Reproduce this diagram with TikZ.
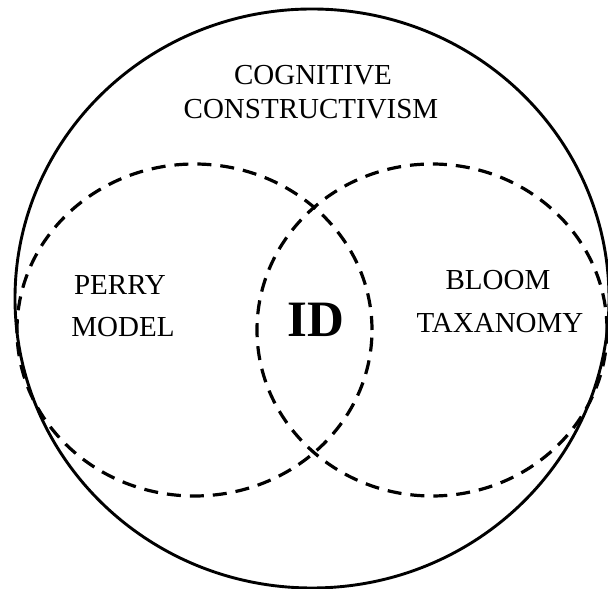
\documentclass[tikz,border=0pt]{standalone}
\usepackage{fontspec}
\setmainfont{Liberation Serif}
\begin{document}
\begin{tikzpicture}[x=1pt,y=1pt,
  outer/.style={line width=2.9pt},
  dashring/.style={line width=3.2pt,dash pattern=on 14pt off 9pt},
  lbl/.style={anchor=base,inner sep=0pt,font=\fontsize{29}{34}\selectfont},
  big/.style={anchor=base,inner sep=0pt,font=\fontsize{51}{60}\selectfont\bfseries}]
\useasboundingbox (0,0) rectangle (608,589);
\draw[outer] (312,290.5) ellipse [x radius=297, y radius=289.5];
\draw[dashring] (194.5,259) ellipse [x radius=177.5, y radius=166];
\draw[dashring] (432,259) ellipse [x radius=175, y radius=166];
\node[lbl] (cog) at (313,504) {COGNITIVE};
\node[lbl] (con) at (311,470) {CONSTRUCTIVISM};
\node[lbl] (perry) at (120,294) {PERRY};
\node[lbl] (model) at (123,252) {MODEL};
\node[lbl] (bloom) at (498,299) {BLOOM};
\node[lbl] (tax) at (500,256) {TAXANOMY};
\node[big] (id) at (316,252) {ID};
\end{tikzpicture}
\end{document}
